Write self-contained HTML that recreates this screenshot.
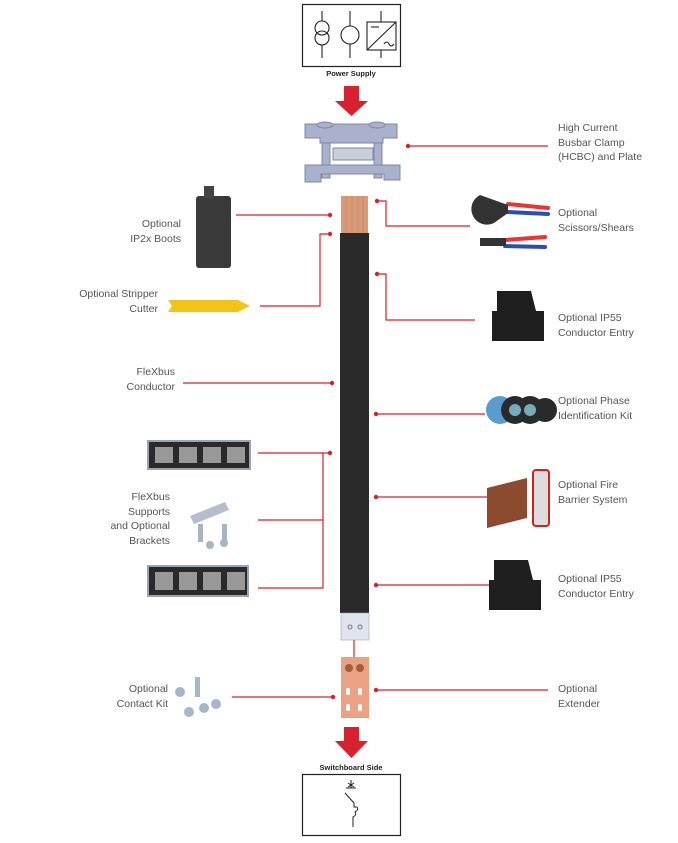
<!DOCTYPE html>
<html><head><meta charset="utf-8"><style>
body{margin:0;width:678px;height:843px;background:#fff;position:relative;overflow:hidden;font-family:"Liberation Sans",sans-serif}
.t{position:absolute;font-size:10.5px;line-height:14.5px;color:#555}
.r{text-align:right}
svg{position:absolute;left:0;top:0}
</style></head><body>
<svg width="678" height="843" viewBox="0 0 678 843">
<!-- power supply box -->
<rect x="302.5" y="4.5" width="98" height="62" fill="#fff" stroke="#222" stroke-width="1.2"/>
<g fill="none" stroke="#222" stroke-width="1.1">
<line x1="322" y1="11" x2="322" y2="21"/><circle cx="322" cy="28" r="7"/><circle cx="322" cy="38" r="7"/><line x1="322" y1="45" x2="322" y2="58"/>
<line x1="350" y1="11" x2="350" y2="26"/><circle cx="350" cy="35" r="9"/><line x1="350" y1="44" x2="350" y2="58"/>
<line x1="381" y1="11" x2="381" y2="22"/><rect x="367" y="22" width="29" height="28"/><line x1="367" y1="50" x2="396" y2="22"/><line x1="381" y1="50" x2="381" y2="58"/>
<line x1="371" y1="27" x2="379" y2="27"/><path d="M384 44 q3 -4 5 0 q2 4 5 0"/>
</g>
<text x="351" y="76" font-size="7.5" font-weight="bold" text-anchor="middle" fill="#222" font-family="Liberation Sans">Power Supply</text>
<!-- arrows -->
<polygon points="344,86 359,86 359,101 368,101 351.5,116 335,101 344,101" fill="#d7212e"/>
<polygon points="344,727 359,727 359,741 368,741 351.5,758 335,741 344,741" fill="#d7212e"/>
<!-- clamp -->
<g fill="#a9b1cc" stroke="#7f88a6" stroke-width="1">
<rect x="322" y="140" width="8" height="38"/><rect x="374" y="140" width="8" height="38"/>
<rect x="333" y="148" width="40" height="12" fill="#c9cedb"/>
<path d="M305 165 h95 v15 h-16 v-6 h-63 v8 h-16z"/>
<path d="M305 124 h92 v14 h-14 v5 h-63 v-5 h-15z"/>
<ellipse cx="325" cy="125" rx="8" ry="3"/><ellipse cx="377" cy="125" rx="8" ry="3"/>
</g>
<!-- conductor -->
<rect x="341" y="196" width="27" height="37" fill="#d99a78"/>
<g stroke="#c07d5c" stroke-width="0.6"><line x1="346" y1="196" x2="346" y2="233"/><line x1="352" y1="196" x2="352" y2="233"/><line x1="358" y1="196" x2="358" y2="233"/><line x1="363" y1="196" x2="363" y2="233"/></g>
<rect x="340" y="233" width="29" height="380" fill="#2a2a2a"/>
<rect x="341" y="613" width="28" height="27" fill="#dfe4ef" stroke="#9aa" stroke-width="0.6"/>
<circle cx="350" cy="627" r="2" fill="none" stroke="#777"/><circle cx="360" cy="627" r="2" fill="none" stroke="#777"/>
<line x1="354" y1="640" x2="354" y2="657" stroke="#d7212e" stroke-width="1.2"/>
<rect x="341" y="657" width="28" height="61" fill="#e9a283"/>
<circle cx="349" cy="668" r="4" fill="#a65a3c"/><circle cx="360" cy="668" r="4" fill="#a65a3c"/>
<g fill="#fff"><rect x="346" y="688" width="4" height="7" rx="2"/><rect x="358" y="688" width="4" height="7" rx="2"/><rect x="346" y="704" width="4" height="7" rx="2"/><rect x="358" y="704" width="4" height="7" rx="2"/></g>
<text x="351" y="770" font-size="7.5" font-weight="bold" text-anchor="middle" fill="#222" font-family="Liberation Sans">Switchboard Side</text>
<rect x="302.5" y="774.5" width="98" height="61" fill="#fff" stroke="#222" stroke-width="1.2"/>
<g fill="none" stroke="#222" stroke-width="1"><line x1="351" y1="780" x2="351" y2="788"/><line x1="348" y1="783" x2="354" y2="787"/><line x1="354" y1="783" x2="348" y2="787"/><line x1="346" y1="788" x2="356" y2="788"/><line x1="345" y1="793" x2="354" y2="803"/><path d="M354 803 v4 h3 q2 3 -2 5 q2 3 -2 5 v10"/></g>
<!-- leader lines -->
<g stroke="#d7212e" stroke-width="1.2" fill="none">
<line x1="408" y1="146" x2="548" y2="146"/>
<polyline points="377,201 386,201 386,226 470,226"/>
<polyline points="377,274 386,274 386,320 475,320"/>
<line x1="376" y1="414" x2="485" y2="414"/>
<line x1="376" y1="497" x2="488" y2="497"/>
<line x1="376" y1="585" x2="490" y2="585"/>
<line x1="376" y1="690" x2="548" y2="690"/>
<line x1="236" y1="215" x2="330" y2="215"/>
<polyline points="330,234 320,234 320,306 260,306"/>
<line x1="183" y1="383" x2="332" y2="383"/>
<polyline points="330,453 323,453 323,588 258,588"/>
<line x1="258" y1="453" x2="323" y2="453"/>
<line x1="258" y1="520" x2="323" y2="520"/>
<line x1="232" y1="697" x2="333" y2="697"/>
</g>
<g fill="#d7212e">
<circle cx="408" cy="146" r="2.2"/><circle cx="377" cy="201" r="2.2"/><circle cx="377" cy="274" r="2.2"/><circle cx="376" cy="414" r="2.2"/><circle cx="376" cy="497" r="2.2"/><circle cx="376" cy="585" r="2.2"/><circle cx="376" cy="690" r="2.2"/><circle cx="330" cy="215" r="2.2"/><circle cx="330" cy="234" r="2.2"/><circle cx="332" cy="383" r="2.2"/><circle cx="330" cy="453" r="2.2"/><circle cx="333" cy="697" r="2.2"/>
</g>
<!-- product images (approx) -->
<rect x="196" y="196" width="35" height="72" rx="3" fill="#3a3a3a"/><rect x="204" y="186" width="10" height="12" fill="#444"/>
<path d="M168 300 h70 l12 6 l-12 6 h-70 l4 -6z" fill="#f2c318"/>
<g stroke-width="4" stroke-linecap="round" fill="none"><path d="M508 204 l40 4" stroke="#e33"/><path d="M508 212 l40 2" stroke="#2a4fb0"/><path d="M505 240 l40 -3" stroke="#e33"/><path d="M505 246 l40 1" stroke="#2a4fb0"/></g>
<path d="M480 195 a14 14 0 1 0 14 28 l14 -10 v-8 z" fill="#333"/><path d="M480 238 h26 v8 h-26z" fill="#333"/>
<path d="M497 291 h34 l5 20 h8 v30 h-52 v-30 h5z" fill="#1e1e1e"/>
<path d="M494 560 h34 l5 20 h8 v30 h-52 v-30 h5z" fill="#1e1e1e"/>
<g><circle cx="500" cy="410" r="14" fill="#5b9ccf"/><circle cx="515" cy="410" r="14" fill="#2a2a2a"/><circle cx="530" cy="410" r="14" fill="#2a2a2a"/><circle cx="545" cy="410" r="12" fill="#2a2a2a"/><circle cx="515" cy="410" r="6" fill="#7ab"/><circle cx="530" cy="410" r="6" fill="#7ab"/></g>
<path d="M487 488 l40 -10 v40 l-40 10z" fill="#8c4a2e"/><rect x="533" y="470" width="16" height="56" rx="3" fill="#ddd" stroke="#c22" stroke-width="2"/>
<g fill="#2a2a2a" stroke="#9aa3b8" stroke-width="2"><rect x="148" y="441" width="102" height="28"/><rect x="148" y="566" width="100" height="30"/></g>
<g fill="#999"><rect x="155" y="447" width="18" height="16"/><rect x="179" y="447" width="18" height="16"/><rect x="203" y="447" width="18" height="16"/><rect x="227" y="447" width="18" height="16"/><rect x="155" y="572" width="18" height="18"/><rect x="179" y="572" width="18" height="18"/><rect x="203" y="572" width="18" height="18"/><rect x="227" y="572" width="18" height="18"/></g>
<path d="M190 516 l35 -14 l4 8 l-35 14z" fill="#b6bdcc"/><g fill="#aab3c6"><rect x="198" y="524" width="5" height="18"/><rect x="222" y="524" width="5" height="18"/><circle cx="210" cy="545" r="4"/><circle cx="224" cy="543" r="4"/></g>
<g fill="#a8b6cc"><circle cx="180" cy="692" r="5"/><rect x="195" y="677" width="5" height="20"/><circle cx="189" cy="712" r="5"/><circle cx="204" cy="708" r="5"/><circle cx="216" cy="704" r="5"/></g>
</svg>
<div class="t" style="left:558px;top:121px">High Current<br>Busbar Clamp<br>(HCBC) and Plate</div>
<div class="t" style="left:558px;top:206px">Optional<br>Scissors/Shears</div>
<div class="t" style="left:558px;top:311px">Optional IP55<br>Conductor Entry</div>
<div class="t" style="left:558px;top:394px">Optional Phase<br>Identification Kit</div>
<div class="t" style="left:558px;top:478px">Optional Fire<br>Barrier System</div>
<div class="t" style="left:558px;top:572px">Optional IP55<br>Conductor Entry</div>
<div class="t" style="left:558px;top:682px">Optional<br>Extender</div>
<div class="t r" style="right:497px;top:217px">Optional<br>IP2x Boots</div>
<div class="t r" style="right:520px;top:287px">Optional Stripper<br>Cutter</div>
<div class="t r" style="right:503px;top:365px">FleXbus<br>Conductor</div>
<div class="t r" style="right:508px;top:490px">FleXbus<br>Supports<br>and Optional<br>Brackets</div>
<div class="t r" style="right:510px;top:682px">Optional<br>Contact Kit</div>
</body></html>
